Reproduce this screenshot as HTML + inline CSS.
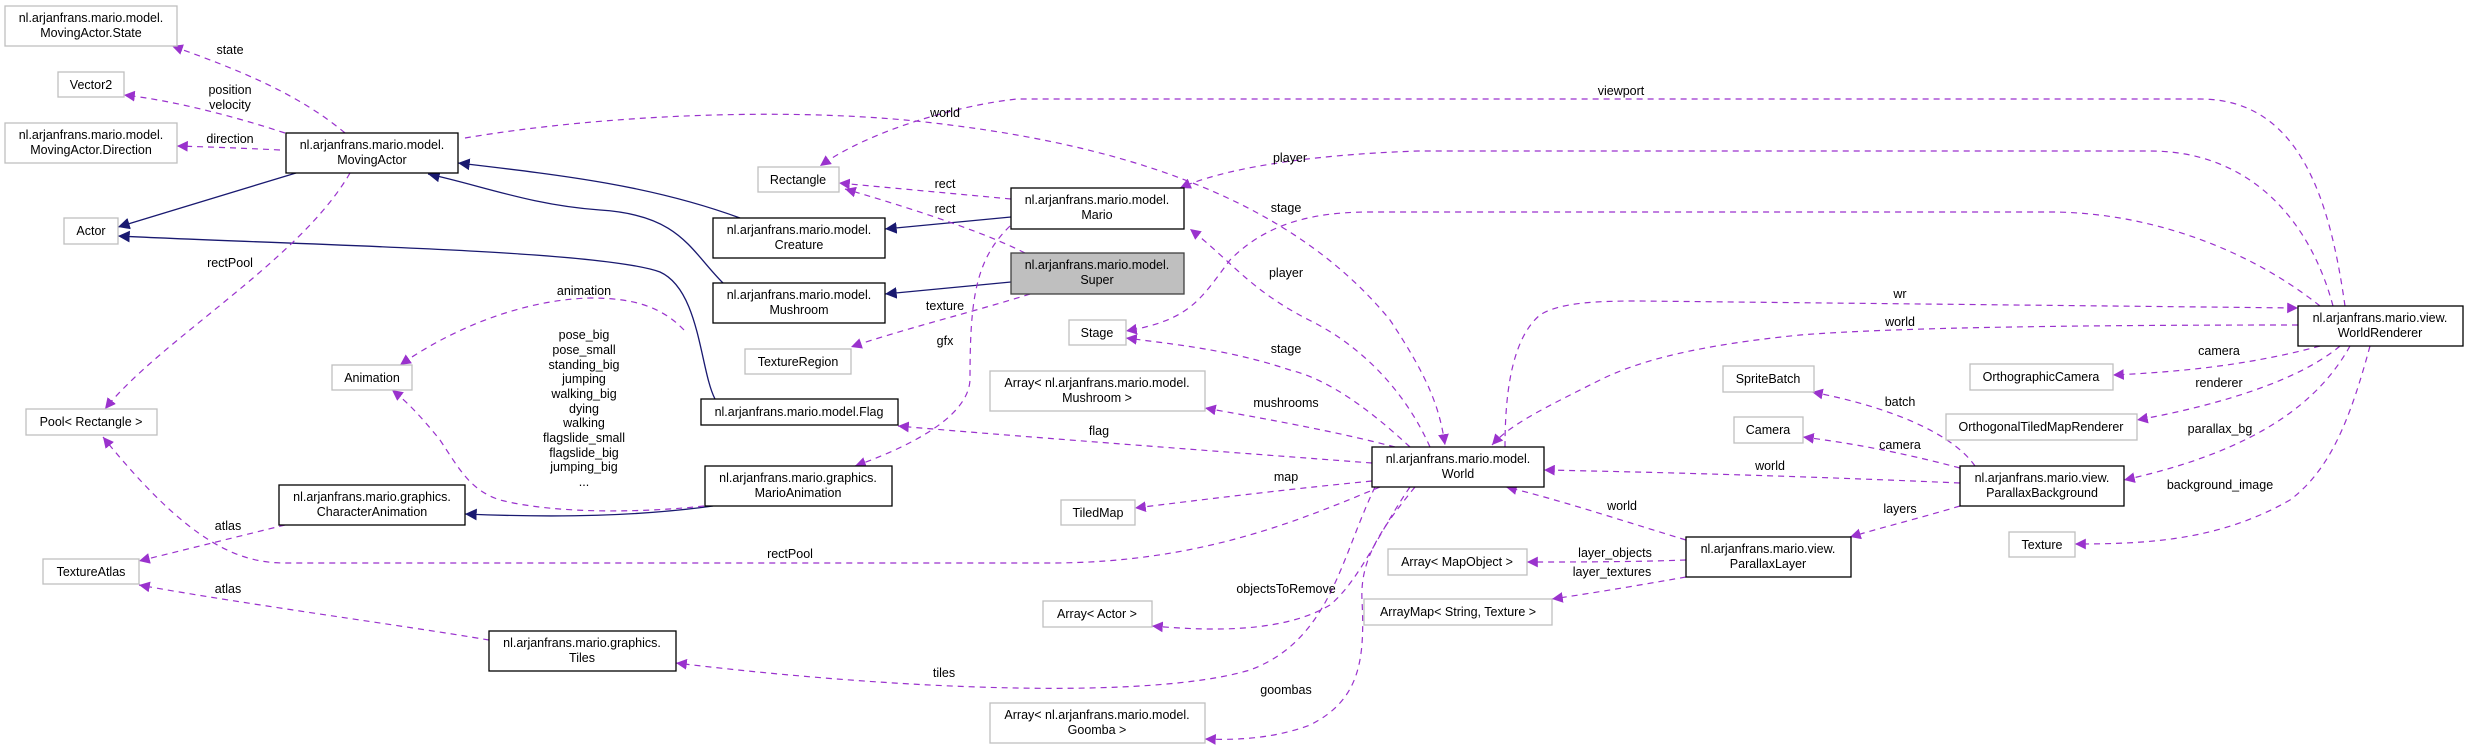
<!DOCTYPE html>
<html><head><meta charset="utf-8"><style>
html,body{margin:0;padding:0;background:#fff;}
svg{display:block;}
text{font-family:"Liberation Sans",sans-serif;font-size:12.5px;fill:#000;}
.g{fill:#fff;stroke:#bfbfbf;stroke-width:1.3;}
.b{fill:#fff;stroke:#000;stroke-width:1.3;}
.s{fill:#bfbfbf;stroke:#404040;stroke-width:1.3;}
.d{fill:none;stroke:#9a32cd;stroke-width:1.2;stroke-dasharray:6,5;}
.n{fill:none;stroke:#191970;stroke-width:1.3;}
</style></head><body>
<svg width="2468" height="749" viewBox="0 0 2468 749" xmlns="http://www.w3.org/2000/svg">
<defs>
<marker id="p" viewBox="0 0 10 10" refX="10" refY="5" markerWidth="9" markerHeight="9" orient="auto"><path d="M0,0L10,5L0,10z" fill="#9a32cd"/></marker>
<marker id="v" viewBox="0 0 10 10" refX="10" refY="5" markerWidth="9" markerHeight="9" orient="auto"><path d="M0,0L10,5L0,10z" fill="#191970"/></marker>
</defs>

<!-- navy inheritance edges -->
<path class="n" marker-end="url(#v)" d="M296,173 L118,227"/>
<path class="n" marker-end="url(#v)" d="M715,399 C700,370 700,290 660,272 C600,250 300,245 118,236"/>
<path class="n" marker-end="url(#v)" d="M740,218 C650,185 560,175 458,163"/>
<path class="n" marker-end="url(#v)" d="M723,283 C690,250 680,215 600,210 C530,205 480,185 428,174"/>
<path class="n" marker-end="url(#v)" d="M1011,217 L885,229"/>
<path class="n" marker-end="url(#v)" d="M1011,282 L885,294"/>
<path class="n" marker-end="url(#v)" d="M713,506 C640,516 560,518 465,514"/>

<!-- purple dashed edges -->
<path class="d" marker-end="url(#p)" d="M345,133 C300,95 240,70 172,46"/>
<path class="d" marker-end="url(#p)" d="M285,133 C230,115 170,100 124,95"/>
<path class="d" marker-end="url(#p)" d="M280,150 C240,148 210,147 177,146"/>
<path class="d" marker-end="url(#p)" d="M350,173 C300,260 160,340 105,409"/>
<path class="d" marker-end="url(#p)" d="M465,138 C600,115 800,105 950,125 C1150,150 1300,210 1390,320 C1430,380 1440,410 1445,445"/>
<path class="d" marker-end="url(#p)" d="M2345,306 C2330,200 2300,99 2200,99 L1017,99 C960,105 870,130 820,166"/>
<path class="d" marker-end="url(#p)" d="M2333,306 C2310,220 2250,151 2150,151 L1418,151 C1300,155 1220,170 1180,188"/>
<path class="d" marker-end="url(#p)" d="M2320,306 C2250,250 2150,212 2050,212 L1369,212 C1300,212 1260,230 1230,260 C1200,300 1190,320 1126,331"/>
<path class="d" marker-end="url(#p)" d="M1430,447 C1400,380 1350,340 1309,320 C1250,290 1230,260 1190,229"/>
<path class="d" marker-end="url(#p)" d="M1410,447 C1370,410 1330,380 1290,370 C1230,350 1180,345 1126,338"/>
<path class="d" marker-end="url(#p)" d="M1011,199 L839,183"/>
<path class="d" marker-end="url(#p)" d="M1025,253 C980,230 900,205 845,189"/>
<path class="d" marker-end="url(#p)" d="M1030,294 C980,310 900,330 851,347"/>
<path class="d" marker-end="url(#p)" d="M1010,226 C975,260 970,300 970,380 C968,420 900,450 855,466"/>
<path class="d" marker-end="url(#p)" d="M684,330 C660,305 630,298 590,298 C520,300 450,330 400,365"/>
<path class="d" marker-end="url(#p)" d="M704,506 C650,512 560,515 500,500 C470,490 460,470 440,440 C420,415 405,400 392,390"/>
<path class="d" marker-end="url(#p)" d="M285,525 L139,561"/>
<path class="d" marker-end="url(#p)" d="M489,640 C400,625 250,605 139,585"/>
<path class="d" marker-end="url(#p)" d="M1380,487 C1300,520 1200,563 1050,563 L285,563 C240,563 190,545 103,437"/>
<path class="d" marker-end="url(#p)" d="M1375,487 C1340,560 1330,640 1250,670 C1150,700 900,690 676,663"/>
<path class="d" marker-end="url(#p)" d="M1372,463 C1200,450 1000,435 898,426"/>
<path class="d" marker-end="url(#p)" d="M1395,447 C1330,430 1260,418 1205,408"/>
<path class="d" marker-end="url(#p)" d="M1372,481 C1280,490 1200,500 1135,508"/>
<path class="d" marker-end="url(#p)" d="M1410,487 C1380,530 1360,580 1330,605 C1280,635 1200,630 1152,626"/>
<path class="d" marker-end="url(#p)" d="M1415,487 C1380,530 1360,560 1362,600 C1365,660 1360,700 1310,725 C1270,740 1230,740 1205,739"/>
<path class="d" marker-end="url(#p)" d="M1960,483 C1800,476 1650,472 1544,470"/>
<path class="d" marker-end="url(#p)" d="M1686,540 C1620,520 1560,500 1506,487"/>
<path class="d" marker-end="url(#p)" d="M2298,325 C2100,325 1900,327 1800,335 C1700,345 1640,360 1600,380 C1540,410 1510,425 1492,445"/>
<path class="d" marker-end="url(#p)" d="M1505,447 C1505,400 1510,340 1540,315 C1560,302 1600,301 1640,301 L2298,308"/>
<path class="d" marker-end="url(#p)" d="M2320,346 C2250,365 2180,372 2113,375"/>
<path class="d" marker-end="url(#p)" d="M2340,346 C2300,380 2220,405 2137,420"/>
<path class="d" marker-end="url(#p)" d="M2350,346 C2320,400 2260,450 2124,480"/>
<path class="d" marker-end="url(#p)" d="M2370,346 C2350,420 2330,470 2290,500 C2220,540 2150,544 2075,544"/>
<path class="d" marker-end="url(#p)" d="M1975,466 C1950,430 1880,405 1812,392"/>
<path class="d" marker-end="url(#p)" d="M1960,468 C1900,452 1850,443 1803,437"/>
<path class="d" marker-end="url(#p)" d="M1960,506 C1920,518 1880,528 1850,537"/>
<path class="d" marker-end="url(#p)" d="M1686,560 C1630,562 1580,562 1527,562"/>
<path class="d" marker-end="url(#p)" d="M1686,577 C1640,585 1600,592 1552,599"/>

<!-- edge labels -->
<g text-anchor="middle">
<text x="230" y="54">state</text>
<text x="230" y="94">position</text>
<text x="230" y="109">velocity</text>
<text x="230" y="143">direction</text>
<text x="230" y="267">rectPool</text>
<text x="584" y="295">animation</text>
<text x="584" y="339">pose_big</text>
<text x="584" y="354">pose_small</text>
<text x="584" y="369">standing_big</text>
<text x="584" y="383">jumping</text>
<text x="584" y="398">walking_big</text>
<text x="584" y="413">dying</text>
<text x="584" y="427">walking</text>
<text x="584" y="442">flagslide_small</text>
<text x="584" y="457">flagslide_big</text>
<text x="584" y="471">jumping_big</text>
<text x="584" y="486">...</text>
<text x="228" y="530">atlas</text>
<text x="228" y="593">atlas</text>
<text x="945" y="117">world</text>
<text x="945" y="188">rect</text>
<text x="945" y="213">rect</text>
<text x="945" y="310">texture</text>
<text x="945" y="345">gfx</text>
<text x="1621" y="95">viewport</text>
<text x="1290" y="162">player</text>
<text x="1286" y="212">stage</text>
<text x="1286" y="277">player</text>
<text x="1286" y="353">stage</text>
<text x="1286" y="407">mushrooms</text>
<text x="1099" y="435">flag</text>
<text x="1286" y="481">map</text>
<text x="790" y="558">rectPool</text>
<text x="1286" y="593">objectsToRemove</text>
<text x="944" y="677">tiles</text>
<text x="1286" y="694">goombas</text>
<text x="1900" y="298">wr</text>
<text x="1900" y="326">world</text>
<text x="2219" y="355">camera</text>
<text x="2219" y="387">renderer</text>
<text x="2220" y="433">parallax_bg</text>
<text x="2220" y="489">background_image</text>
<text x="1900" y="406">batch</text>
<text x="1900" y="449">camera</text>
<text x="1770" y="470">world</text>
<text x="1900" y="513">layers</text>
<text x="1622" y="510">world</text>
<text x="1615" y="557">layer_objects</text>
<text x="1612" y="576">layer_textures</text>
</g>

<!-- nodes -->
<g text-anchor="middle">
<rect class="g" x="5" y="6" width="172" height="40"/><text x="91" y="22">nl.arjanfrans.mario.model.</text><text x="91" y="37">MovingActor.State</text>
<rect class="g" x="58" y="72" width="66" height="25"/><text x="91" y="89">Vector2</text>
<rect class="g" x="5" y="123" width="172" height="40"/><text x="91" y="139">nl.arjanfrans.mario.model.</text><text x="91" y="154">MovingActor.Direction</text>
<rect class="b" x="286" y="133" width="172" height="40"/><text x="372" y="149">nl.arjanfrans.mario.model.</text><text x="372" y="164">MovingActor</text>
<rect class="g" x="64" y="218" width="54" height="26"/><text x="91" y="235">Actor</text>
<rect class="g" x="332" y="365" width="80" height="25"/><text x="372" y="382">Animation</text>
<rect class="g" x="26" y="409" width="131" height="26"/><text x="91" y="426">Pool&lt; Rectangle &gt;</text>
<rect class="b" x="279" y="485" width="186" height="40"/><text x="372" y="501">nl.arjanfrans.mario.graphics.</text><text x="372" y="516">CharacterAnimation</text>
<rect class="g" x="43" y="559" width="96" height="25"/><text x="91" y="576">TextureAtlas</text>
<rect class="b" x="489" y="631" width="187" height="40"/><text x="582" y="647">nl.arjanfrans.mario.graphics.</text><text x="582" y="662">Tiles</text>
<rect class="g" x="758" y="167" width="81" height="25"/><text x="798" y="184">Rectangle</text>
<rect class="b" x="713" y="218" width="172" height="40"/><text x="799" y="234">nl.arjanfrans.mario.model.</text><text x="799" y="249">Creature</text>
<rect class="b" x="713" y="283" width="172" height="40"/><text x="799" y="299">nl.arjanfrans.mario.model.</text><text x="799" y="314">Mushroom</text>
<rect class="g" x="745" y="349" width="106" height="25"/><text x="798" y="366">TextureRegion</text>
<rect class="b" x="701" y="399" width="197" height="26"/><text x="799" y="416">nl.arjanfrans.mario.model.Flag</text>
<rect class="b" x="705" y="466" width="187" height="40"/><text x="798" y="482">nl.arjanfrans.mario.graphics.</text><text x="798" y="497">MarioAnimation</text>
<rect class="b" x="1011" y="188" width="173" height="41"/><text x="1097" y="204">nl.arjanfrans.mario.model.</text><text x="1097" y="219">Mario</text>
<rect class="s" x="1011" y="253" width="173" height="41"/><text x="1097" y="269">nl.arjanfrans.mario.model.</text><text x="1097" y="284">Super</text>
<rect class="g" x="1069" y="320" width="57" height="25"/><text x="1097" y="337">Stage</text>
<rect class="g" x="990" y="371" width="215" height="40"/><text x="1097" y="387">Array&lt; nl.arjanfrans.mario.model.</text><text x="1097" y="402">Mushroom &gt;</text>
<rect class="g" x="1061" y="500" width="74" height="25"/><text x="1098" y="517">TiledMap</text>
<rect class="g" x="1043" y="601" width="109" height="26"/><text x="1097" y="618">Array&lt; Actor &gt;</text>
<rect class="g" x="990" y="703" width="215" height="40"/><text x="1097" y="719">Array&lt; nl.arjanfrans.mario.model.</text><text x="1097" y="734">Goomba &gt;</text>
<rect class="b" x="1372" y="447" width="172" height="40"/><text x="1458" y="463">nl.arjanfrans.mario.model.</text><text x="1458" y="478">World</text>
<rect class="g" x="1388" y="549" width="139" height="26"/><text x="1457" y="566">Array&lt; MapObject &gt;</text>
<rect class="g" x="1364" y="599" width="188" height="26"/><text x="1458" y="616">ArrayMap&lt; String, Texture &gt;</text>
<rect class="b" x="2298" y="306" width="165" height="40"/><text x="2380" y="322">nl.arjanfrans.mario.view.</text><text x="2380" y="337">WorldRenderer</text>
<rect class="g" x="1723" y="366" width="91" height="26"/><text x="1768" y="383">SpriteBatch</text>
<rect class="g" x="1970" y="364" width="143" height="26"/><text x="2041" y="381">OrthographicCamera</text>
<rect class="g" x="1734" y="417" width="69" height="26"/><text x="1768" y="434">Camera</text>
<rect class="g" x="1946" y="414" width="191" height="26"/><text x="2041" y="431">OrthogonalTiledMapRenderer</text>
<rect class="b" x="1960" y="466" width="164" height="40"/><text x="2042" y="482">nl.arjanfrans.mario.view.</text><text x="2042" y="497">ParallaxBackground</text>
<rect class="b" x="1686" y="537" width="165" height="40"/><text x="1768" y="553">nl.arjanfrans.mario.view.</text><text x="1768" y="568">ParallaxLayer</text>
<rect class="g" x="2009" y="532" width="66" height="25"/><text x="2042" y="549">Texture</text>
</g>
</svg>
</body></html>
